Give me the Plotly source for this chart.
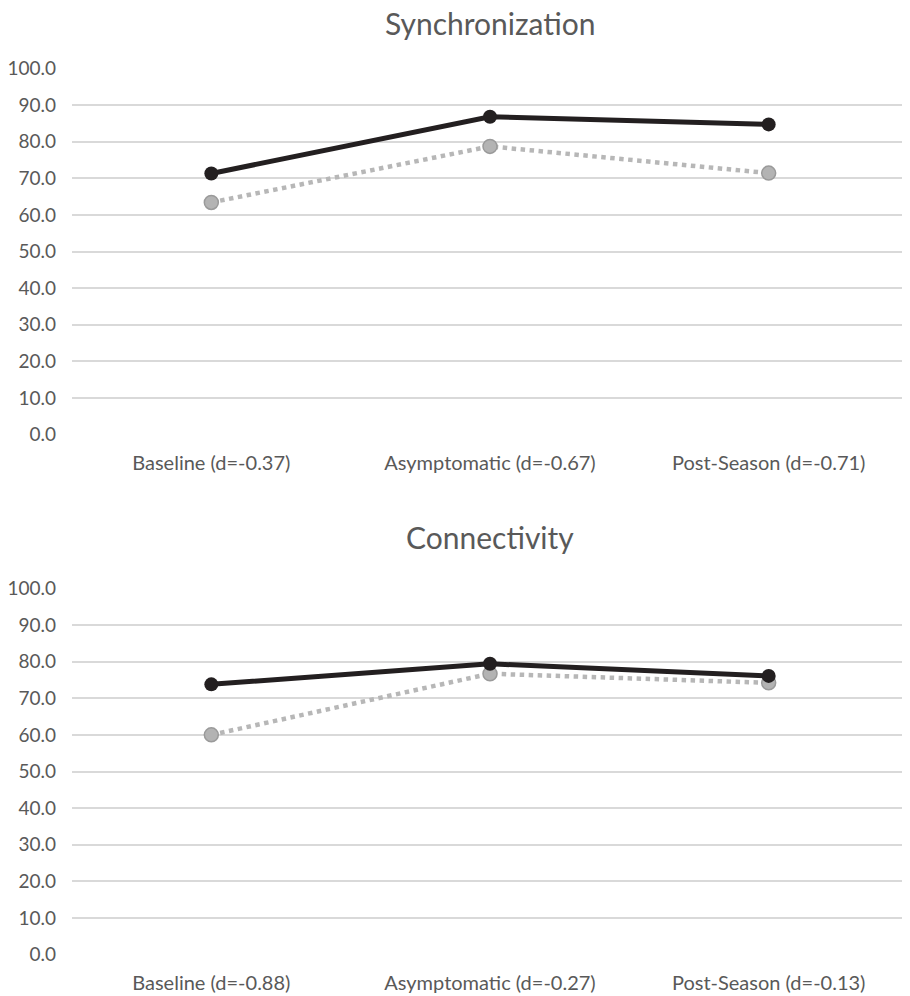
import plotly.graph_objects as go

# data
sync_categories = ["Baseline (d=-0.37)", "Asymptomatic (d=-0.67)", "Post-Season (d=-0.71)"]
sync_black = [71.3, 86.8, 84.7]
sync_gray = [63.4, 78.7, 71.4]

conn_categories = ["Baseline (d=-0.88)", "Asymptomatic (d=-0.27)", "Post-Season (d=-0.13)"]
conn_black = [73.8, 79.4, 76.1]
conn_gray = [60.0, 76.7, 74.2]

y_ticks = [0, 10, 20, 30, 40, 50, 60, 70, 80, 90, 100]

FONT = "Lato"
TEXT = "#595959"

fig = go.Figure()

panels = [
    ("x", "y", sync_categories, sync_black, sync_gray),
    ("x2", "y2", conn_categories, conn_black, conn_gray),
]
for xa, ya, cats, black, gray in panels:
    # gray dotted series drawn first so black sits on top
    fig.add_trace(go.Scatter(
        x=cats, y=gray, xaxis=xa, yaxis=ya, mode="lines+markers",
        line=dict(color="#b7b7b7", width=4.5, dash="dot"),
        marker=dict(size=14, color="#b3b3b3", line=dict(color="#9a9a9a", width=1.5)),
        showlegend=False,
    ))
    fig.add_trace(go.Scatter(
        x=cats, y=black, xaxis=xa, yaxis=ya, mode="lines+markers",
        line=dict(color="#231f20", width=5),
        marker=dict(size=14, color="#231f20"),
        showlegend=False,
    ))

yaxis_common = dict(
    range=[-0.1, 100.1], tickvals=y_ticks, ticktext=[f"{v:.1f}" for v in y_ticks],
    showgrid=True, gridcolor="#d9d9d9", gridwidth=1.5, zeroline=False,
    showline=False, ticks="", ticklabelstandoff=15, automargin=False,
    tickfont=dict(family=FONT, size=19, color=TEXT), fixedrange=True,
)
xaxis_common = dict(
    type="category", range=[-0.5, 2.5], showgrid=False, zeroline=False,
    showline=False, ticks="", ticklabelstandoff=14, automargin=False,
    tickfont=dict(family=FONT, size=20, color=TEXT),
)

# the page body adds an 8px offset, so positions below are shifted by that
H = 996
fig.update_layout(
    width=910, height=H,
    margin=dict(l=63.5, r=9.5, t=0, b=0, autoexpand=False),
    plot_bgcolor="white", paper_bgcolor="white",
    xaxis=dict(**xaxis_common, anchor="y", domain=[0, 1]),
    yaxis=dict(**yaxis_common, anchor="x", domain=[1 - 427 / H, 1 - 60 / H]),
    xaxis2=dict(**xaxis_common, anchor="y2", domain=[0, 1]),
    yaxis2=dict(**yaxis_common, anchor="x2", domain=[1 - 947 / H, 1 - 580 / H]),
    annotations=[
        dict(text="Synchronization", x=0.5, y=1 - 15 / H, xref="paper", yref="paper",
             xanchor="center", yanchor="middle", showarrow=False,
             font=dict(family=FONT, size=30, color=TEXT)),
        dict(text="Connectivity", x=0.5, y=1 - 529 / H, xref="paper", yref="paper",
             xanchor="center", yanchor="middle", showarrow=False,
             font=dict(family=FONT, size=30, color=TEXT)),
    ],
)

fig.write_html("out.html")
